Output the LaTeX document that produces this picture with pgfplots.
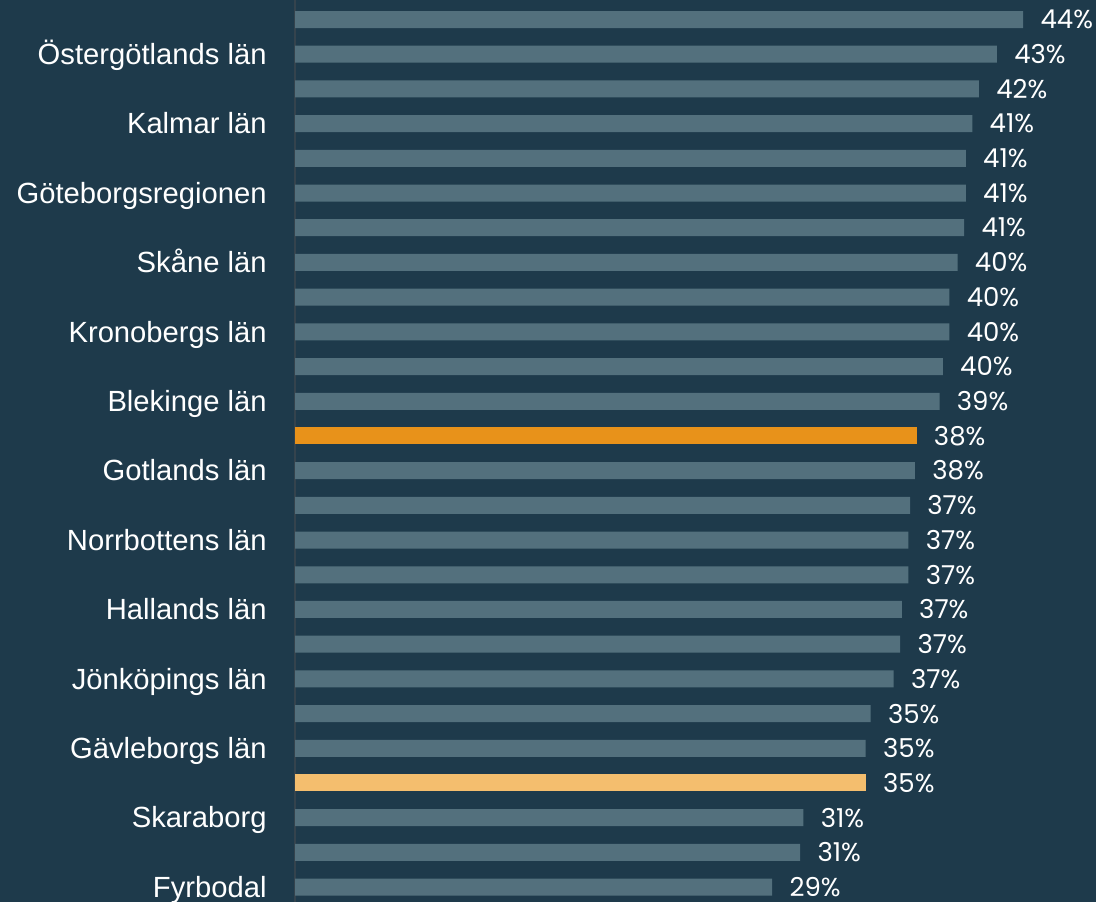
\documentclass[border=0pt]{standalone}
\usepackage{pgfplots}
\pgfplotsset{compat=1.18}
\usetikzlibrary{backgrounds}
\usepackage{fontspec}
\setmainfont{Liberation Sans}
\newfontfamily\numfont{Poppins}
\definecolor{bg}{HTML}{1E3A4B}
\definecolor{barc}{HTML}{53707D}
\definecolor{org}{HTML}{E8921A}
\definecolor{lorg}{HTML}{F4BE6E}
\definecolor{axl}{HTML}{34434D}
\begin{document}
\begin{tikzpicture}
\begin{axis}[
  at={(147.5pt,0pt)}, anchor=south west,
  scale only axis, width=397.7pt, height=451pt,
  xmin=0, xmax=48.5, ymin=0.438, ymax=26.43, y dir=reverse,
  xbar, bar width=8.5pt, bar shift=0pt,
  axis x line=none, axis y line*=left,
  y axis line style={draw=axl, line width=0.6pt},
  xtick=\empty,
  ytick={2,4,...,26},
  yticklabels={Östergötlands län, Kalmar län, Göteborgsregionen, Skåne län, Kronobergs län, Blekinge län, Gotlands län, Norrbottens län, Hallands län, Jönköpings län, Gävleborgs län, Skaraborg, Fyrbodal},
  major tick length=0pt,
  yticklabel style={font=\fontsize{14.6}{16}\selectfont, text=white, inner sep=0pt, anchor=base east, xshift=-14pt, yshift=-5.1pt},
  point meta=explicit,
  nodes near coords={\pgfmathprintnumber[fixed,precision=0,assume math mode=true]{\pgfplotspointmeta}\%},
  nodes near coords style={font=\numfont\fontsize{13}{15}\selectfont, text=white, anchor=west, inner sep=0pt, xshift=8.5pt},
  clip=false,
]
\addplot[fill=barc, draw=none] coordinates {
 (44.4,1) [44]
 (42.8,2) [43]
 (41.7,3) [42]
 (41.3,4) [41]
 (40.9,5) [41]
 (40.9,6) [41]
 (40.8,7) [41]
 (40.4,8) [40]
 (39.9,9) [40]
 (39.9,10) [40]
 (39.5,11) [40]
 (39.3,12) [39]
 (37.8,14) [38]
 (37.5,15) [37]
 (37.4,16) [37]
 (37.4,17) [37]
 (37.0,18) [37]
 (36.9,19) [37]
 (36.5,20) [37]
 (35.1,21) [35]
 (34.8,22) [35]
 (31.0,24) [31]
 (30.8,25) [31]
 (29.1,26) [29]
};
\addplot[fill=org, draw=none] coordinates {(37.9,13) [38]};
\addplot[fill=lorg, draw=none] coordinates {(34.8,23) [35]};
\end{axis}
\begin{scope}[on background layer]
\fill[bg] (0,0) rectangle (548pt,451pt);
\end{scope}
\pgfresetboundingbox
\path[use as bounding box] (0,0) rectangle (548pt,451pt);
\end{tikzpicture}
\end{document}
